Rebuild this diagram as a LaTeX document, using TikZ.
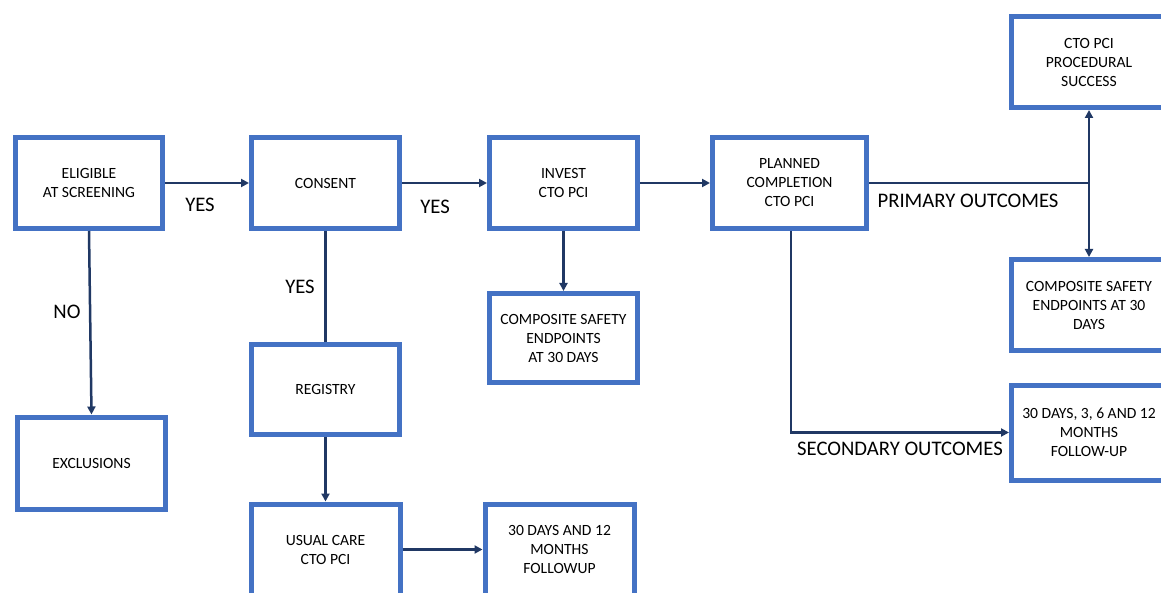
\documentclass[tikz,border=0pt]{standalone}
\usepackage{fontspec}
\setmainfont{Carlito}
\usetikzlibrary{arrows.meta}
\definecolor{boxblue}{HTML}{4472C4}
\definecolor{navy}{HTML}{203864}
\tikzset{
  flowbox/.style={draw=boxblue, line width=5pt, fill=white, align=center,
    inner sep=0pt, font=\fontsize{15.6}{19}\selectfont},
  conn/.style={draw=navy, line width=2.5pt},
  arr/.style={conn, -{Triangle[length=8pt,width=8pt]}},
  lbl/.style={font=\fontsize{20.7}{22}\selectfont, inner sep=0pt}
}
\begin{document}
\begin{tikzpicture}[x=1pt,y=-1pt]
\useasboundingbox (0,0) rectangle (1161,593);
\clip (0,0) rectangle (1161,593);
\fill[white] (0,0) rectangle (1161,593);
\node[flowbox, minimum width=147, minimum height=91] (elig) at (89,183) {ELIGIBLE\\AT SCREENING};
\node[flowbox, minimum width=148, minimum height=91] (cons) at (325.5,183) {CONSENT};
\node[flowbox, minimum width=148, minimum height=91] (inv) at (563.5,183) {INVEST\\CTO PCI};
\node[flowbox, minimum width=154, minimum height=91] (plan) at (789.5,183) {PLANNED\\COMPLETION\\CTO PCI};
\node[flowbox, minimum width=155, minimum height=91] (succ) at (1089,62) {CTO PCI\\PROCEDURAL\\SUCCESS};
\node[flowbox, minimum width=155, minimum height=91] (comp2) at (1089,305) {COMPOSITE SAFETY\\ENDPOINTS AT 30\\DAYS};
\node[flowbox, minimum width=155, minimum height=95] (fu2) at (1089,432.5) {30 DAYS, 3, 6 AND 12\\MONTHS\\FOLLOW-UP};
\node[flowbox, minimum width=148, minimum height=89] (comp1) at (563.5,338) {COMPOSITE SAFETY\\ENDPOINTS\\AT 30 DAYS};
\node[flowbox, minimum width=148, minimum height=92] (excl) at (91.5,463) {EXCLUSIONS};
\node[flowbox, minimum width=148, minimum height=90] (reg) at (325.5,389.5) {REGISTRY};
\node[flowbox, minimum width=149, minimum height=91] (usual) at (325.5,549.5) {USUAL CARE\\CTO PCI};
\node[flowbox, minimum width=149, minimum height=91] (fu1) at (559.5,549.5) {30 DAYS AND 12\\MONTHS\\FOLLOWUP};
\coordinate (j) at (1089,183);
\draw[arr] (elig.south) -- (excl.north);
\draw[arr] (elig.east) -- (cons.west);
\draw[arr] (cons.east) -- (inv.west);
\draw[arr] (inv.east) -- (plan.west);
\draw[conn] (cons.south) -- (reg.north);
\draw[arr] (inv.south) -- (comp1.north);
\draw[arr] (reg.south) -- (usual.north);
\draw[arr] (usual.east) -- (fu1.west);
\draw[conn] (plan.east) -- (j);
\draw[arr] (j) -- (succ.south);
\draw[arr] (j) -- (comp2.north);
\draw[arr] ([xshift=1.5pt]plan.south) |- (fu2.west);
\node[lbl] (y1) at (200,205) {YES};
\node[lbl] (y2) at (435,207) {YES};
\node[lbl] (y3) at (300,287) {YES};
\node[lbl] (no) at (67,312) {NO};
\node[lbl] (po) at (968,201) {PRIMARY OUTCOMES};
\node[lbl] (so) at (900,449) {SECONDARY OUTCOMES};
\end{tikzpicture}
\end{document}
